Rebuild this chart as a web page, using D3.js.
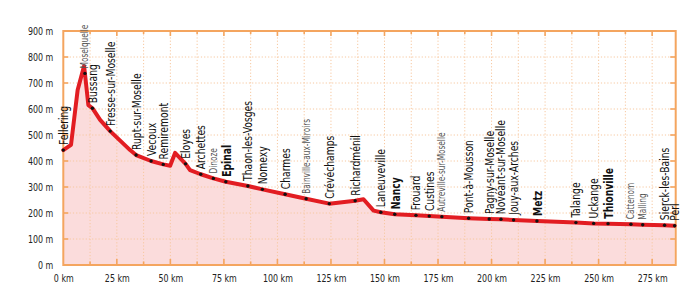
<!DOCTYPE html>
<html><head><meta charset="utf-8">
<script src="https://cdn.jsdelivr.net/npm/d3@7"></script>
<style>
body{margin:0;background:#fff;}
svg{display:block;}
text{font-family:"DejaVu Sans Condensed","DejaVu Sans",sans-serif;}
</style></head><body>
<svg id="chart" width="696" height="298"></svg>
<script>
// Profile vertices (km, elevation m)
const profileKm   = [0, 3.6, 6.7, 9.7, 10.1, 11.7, 13.6, 17.2, 21.9, 31.2, 34, 41, 46.7, 49.9, 52.2, 57.1, 59.2, 64.2, 70.1, 75.9, 86.2, 93, 103.6, 113.4, 124.2, 136.3, 140.2, 144.9, 148.3, 154.8, 164.7, 170.9, 176.8, 189.3, 198.9, 204.4, 210.3, 221.2, 239.4, 247.7, 254.4, 265.1, 270.6, 280.8, 285.5];
const profileElev = [442, 462, 673, 765, 737, 615, 603, 558, 515, 442, 423, 400, 387, 382, 431, 389, 365, 349, 333, 320, 304, 291, 272, 255, 236, 247, 253, 209, 203, 195, 191, 188, 186, 180, 177, 176, 173, 169, 163, 160, 159, 157, 155, 153, 151];

// Towns
const townNames = ["Fellering","Moselquelle","Bussang","Fresse-sur-Moselle","Rupt-sur-Moselle","Vecoux","Remiremont","Eloyes","Archettes","Dinoze","Epinal","Thaon-les-Vosges","Nomexy","Charmes","Bainville-aux-Miroirs","Crévéchamps","Richardménil","Laneuveville","Nancy","Frouard","Custines","Autreville-sur-Moselle","Pont-à-Mousson","Pagny-sur-Moselle","Novéant-sur-Moselle","Jouy-aux-Arches","Metz","Talange","Uckange","Thionville","Cattenom","Malling","Sierck-les-Bains","Perl"];
const townKm   = [0, 10.1, 13.6, 21.9, 34, 41, 46.7, 57.1, 64.2, 70.1, 75.9, 86.2, 93, 103.6, 113.4, 124.2, 136.3, 148.3, 154.8, 164.7, 170.9, 176.8, 189.3, 198.9, 204.4, 210.3, 221.2, 239.4, 247.7, 254.4, 265.1, 270.6, 280.8, 285.5];
const townElev = [442, 737, 603, 515, 423, 400, 387, 389, 349, 333, 320, 304, 291, 272, 255, 236, 247, 203, 195, 191, 188, 186, 180, 177, 176, 173, 169, 163, 160, 159, 157, 155, 153, 151];
// label kind: r = regular, b = bold (city), s = small
const townKind = ["r","s","r","r","r","r","r","r","r","s","b","r","r","r","s","r","r","r","b","r","r","s","r","r","r","r","b","r","r","b","s","s","r","r"];

const xTicks = [0,25,50,75,100,125,150,175,200,225,250,275];
const xMinorTicks = [12.5,37.5,62.5,87.5,112.5,137.5,162.5,187.5,212.5,237.5,262.5];
const yTicks = [0,100,200,300,400,500,600,700,800,900];

const svg = d3.select("#chart");
const x = d3.scaleLinear().domain([0, 286]).range([63.3, 675.7]);
const y = d3.scaleLinear().domain([0, 900]).range([265, 31]);

const ORANGE = "#f4a55f";
const GRID = "#f7c8a0";

const pts = profileKm.map((k,i)=>[k, profileElev[i]]);

// fill
svg.append("path")
  .datum(pts)
  .attr("fill", "#fbdcdc")
  .attr("d", d3.area().x(d=>x(d[0])).y0(y(0)).y1(d=>y(d[1])));

// grid
const g = svg.append("g");
g.selectAll("line.h").data(yTicks.filter(v=>v>0 && v<900)).join("line")
  .attr("x1", x(0)).attr("x2", x(286))
  .attr("y1", d=>y(d)).attr("y2", d=>y(d))
  .attr("stroke", GRID).attr("stroke-width", 1).attr("stroke-dasharray", "1.2,2");
g.selectAll("line.v").data(xTicks.concat(xMinorTicks).filter(v=>v>0)).join("line")
  .attr("x1", d=>x(d)).attr("x2", d=>x(d))
  .attr("y1", y(900)).attr("y2", y(0))
  .attr("stroke", GRID).attr("stroke-width", 1).attr("stroke-dasharray", "1.2,2");

// axes via d3
const C = 0.84;
const axB = svg.append("g").attr("transform", `translate(0,${y(0)})`)
  .call(d3.axisBottom(x).tickValues(xTicks).tickSize(0).tickPadding(10).tickFormat(d=>d+" km"));
const axL = svg.append("g").attr("transform", `translate(${x(0)},0)`)
  .call(d3.axisLeft(y).tickValues(yTicks).tickSize(0).tickPadding(10/C).tickFormat(d=>d+" m"));
[axB, axL].forEach(a=>{
  a.select(".domain").remove();
  a.selectAll("text").attr("fill","#222").attr("font-size","10.5px")
    .attr("font-family","\"DejaVu Sans Condensed\",sans-serif")
    .attr("transform", `scale(${C},1)`);
});

// frame
svg.append("rect").attr("x", x(0)).attr("y", y(900))
  .attr("width", x(286)-x(0)).attr("height", y(0)-y(900))
  .attr("fill","none").attr("stroke", ORANGE).attr("stroke-width", 2);

// inner ticks
const tk = svg.append("g").attr("stroke", ORANGE).attr("stroke-width", 1.6);
tk.selectAll("line.bt").data(xTicks.slice(1)).join("line")
  .attr("x1", d=>x(d)).attr("x2", d=>x(d)).attr("y1", y(0)).attr("y2", y(0)-6);
tk.selectAll("line.bm").data(xMinorTicks).join("line")
  .attr("x1", d=>x(d)).attr("x2", d=>x(d)).attr("y1", y(0)).attr("y2", y(0)-3.5);
tk.selectAll("line.tt").data(xTicks.slice(1)).join("line")
  .attr("x1", d=>x(d)).attr("x2", d=>x(d)).attr("y1", y(900)).attr("y2", y(900)+5);
tk.selectAll("line.tm").data(xMinorTicks).join("line")
  .attr("x1", d=>x(d)).attr("x2", d=>x(d)).attr("y1", y(900)).attr("y2", y(900)+3);
tk.selectAll("line.rt").data(yTicks.slice(1,-1)).join("line")
  .attr("x1", x(286)).attr("x2", x(286)-5.5).attr("y1", d=>y(d)).attr("y2", d=>y(d));
tk.selectAll("line.lt").data(yTicks.slice(1,-1)).join("line")
  .attr("x1", x(0)).attr("x2", x(0)+5).attr("y1", d=>y(d)).attr("y2", d=>y(d));

// profile line
svg.append("path").datum(pts)
  .attr("fill","none").attr("stroke","#e21d22").attr("stroke-width",4)
  .attr("stroke-linejoin","round").attr("stroke-linecap","round")
  .attr("d", d3.line().x(d=>x(d[0])).y(d=>y(d[1])));

// town dots
const towns = townNames.map((n,i)=>({name:n, km:townKm[i], el:townElev[i], kind:townKind[i]}));
svg.append("g").selectAll("circle").data(towns).join("circle")
  .attr("cx", d=>x(d.km)).attr("cy", d=>y(d.el)).attr("r", 1.7).attr("fill","#111");

// labels
const sty = {
  r: {size: 11.8, c: 0.87, dx: 4.5, w: "normal", fill: "#111"},
  b: {size: 13,   c: 0.79, dx: 5,   w: "bold",   fill: "#111"},
  s: {size: 10.5, c: 0.78, dx: 3.5, w: "normal", fill: "#555"}
};
svg.append("g").selectAll("text").data(towns).join("text")
  .attr("transform", d=>`translate(${x(d.km)+sty[d.kind].dx},${y(d.el)-5}) rotate(-90) scale(${sty[d.kind].c},1)`)
  .attr("text-anchor","start")
  .attr("font-size", d=>sty[d.kind].size+"px")
  .attr("font-weight", d=>sty[d.kind].w)
  .attr("fill", d=>sty[d.kind].fill)
  .text(d=>d.name);
</script>
</body></html>
